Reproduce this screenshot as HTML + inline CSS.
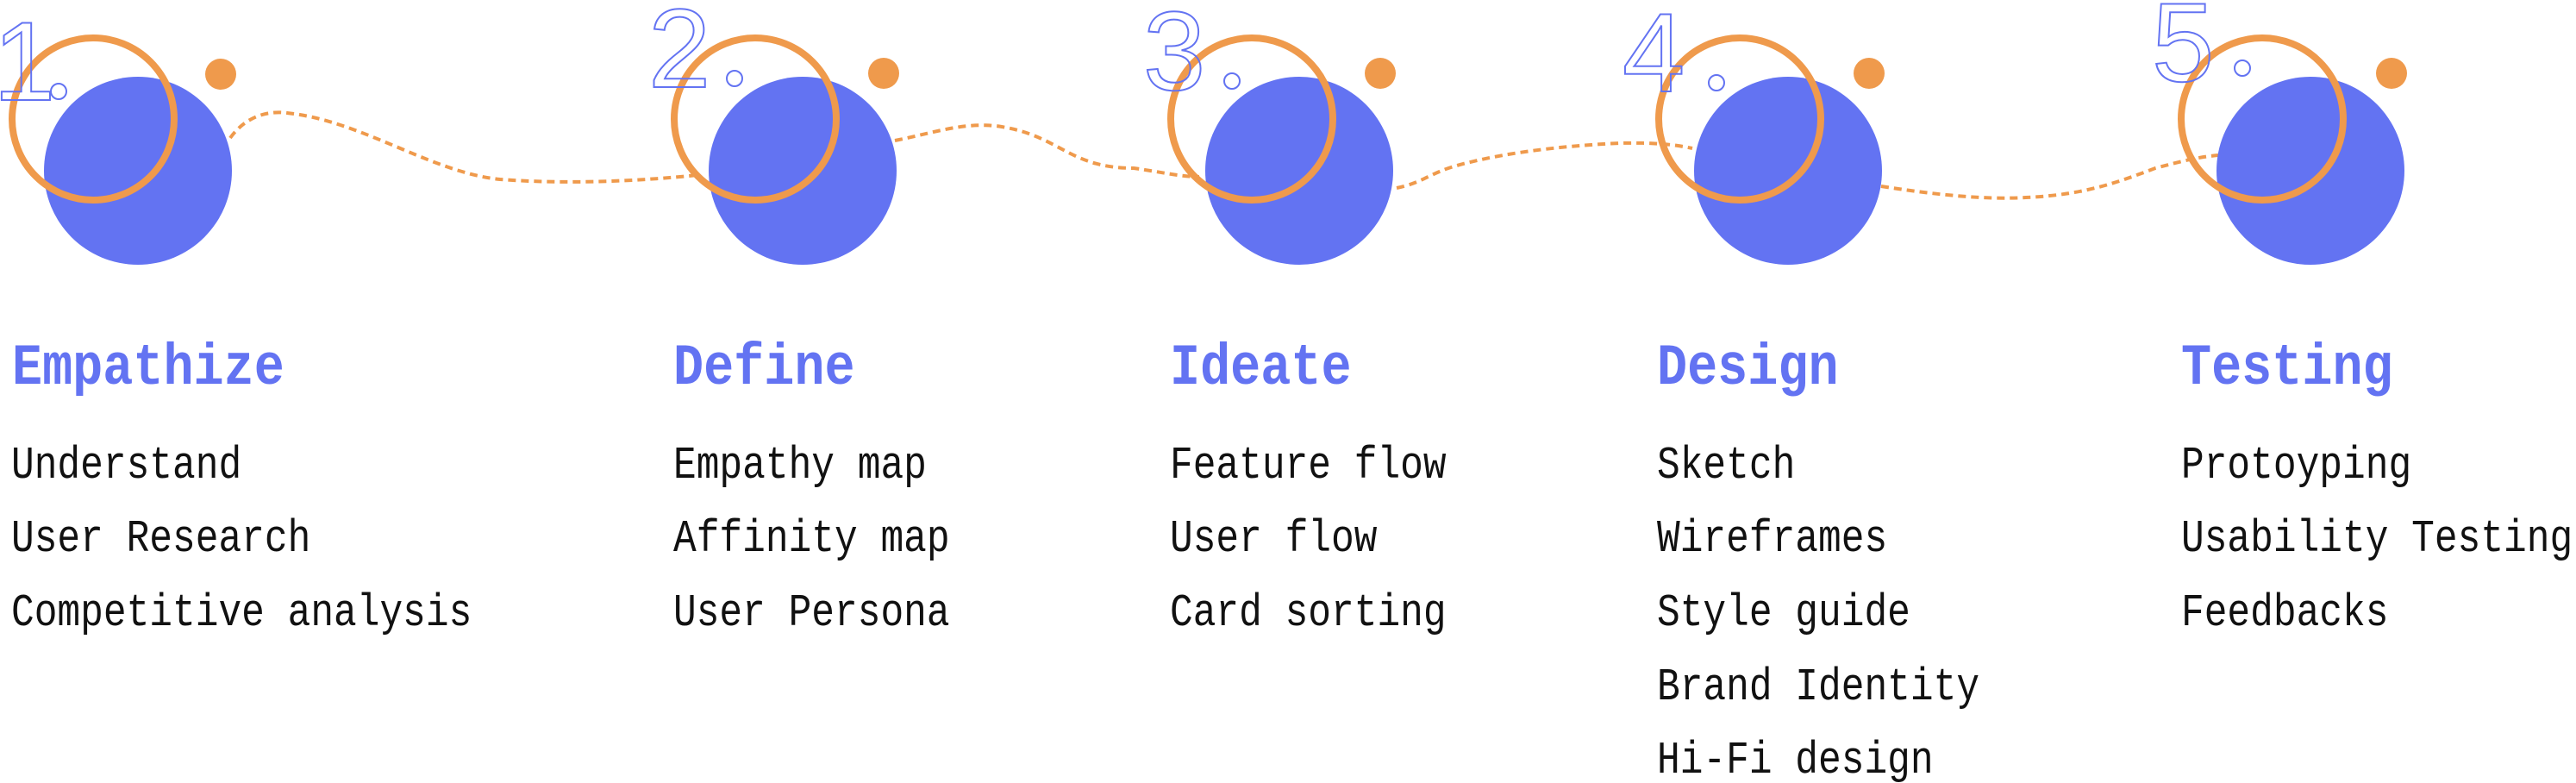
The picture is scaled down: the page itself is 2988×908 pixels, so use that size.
<!DOCTYPE html>
<html><head><meta charset="utf-8"><style>
html,body{margin:0;padding:0;background:#fff;width:2988px;height:908px;overflow:hidden;position:relative}
svg{position:absolute;left:0;top:0}
.h{position:absolute;font-family:"Liberation Mono",monospace;font-weight:bold;font-size:68px;color:#6373F2;transform:scaleX(0.86);transform-origin:0 0;line-height:1;white-space:nowrap}
.t{position:absolute;font-family:"Liberation Mono",monospace;font-size:53px;color:#111;transform:scaleX(0.84);transform-origin:0 0;line-height:1;white-space:nowrap}
</style></head><body>
<svg width="2988" height="908" viewBox="0 0 2988 908">
<g fill="none" stroke="#EF9A4C" stroke-width="4" stroke-dasharray="9 6">
<path d="M267,160 C285,135 310,128 333,131 C420,140 500,200 580,208 C660,214 740,210 810,203"/>
<path d="M1038,163 C1080,155 1120,140 1162,147 C1230,158 1240,195 1315,195 C1350,200 1370,205 1391,205"/>
<path d="M1620,218 C1650,212 1660,200 1690,192 C1750,175 1830,168 1880,166 C1920,165 1945,168 1963,172"/>
<path d="M2182,216 C2240,225 2300,232 2350,229 C2420,226 2460,210 2500,195 C2530,187 2550,182 2573,180"/>
</g>
<g fill="#6373F2">
<circle cx="160" cy="198" r="109"/>
<circle cx="931" cy="198" r="109"/>
<circle cx="1507" cy="198" r="109"/>
<circle cx="2074" cy="198" r="109"/>
<circle cx="2680" cy="198" r="109"/>
</g>
<g fill="none" stroke="#EF9A4C" stroke-width="8">
<circle cx="108" cy="138" r="94"/>
<circle cx="876" cy="138" r="94"/>
<circle cx="1452" cy="138" r="94"/>
<circle cx="2018" cy="138" r="94"/>
<circle cx="2624" cy="138" r="94"/>
</g>
<g fill="#EF9A4C">
<circle cx="256" cy="86" r="18"/>
<circle cx="1025" cy="85" r="18"/>
<circle cx="1601" cy="85" r="18"/>
<circle cx="2168" cy="85" r="18"/>
<circle cx="2774" cy="85" r="18"/>
</g>
<g fill="none" stroke="#6373F2" stroke-width="2" font-family="Liberation Sans, sans-serif" font-size="130">
<text x="-8" y="116">1</text>
<text x="752" y="101">2</text>
<text x="1326" y="104">3</text>
<text x="1882" y="106">4</text>
<text x="2496" y="94">5</text>
<circle cx="68" cy="106" r="9"/>
<circle cx="852" cy="91" r="9"/>
<circle cx="1429" cy="94" r="9"/>
<circle cx="1991" cy="96" r="9"/>
<circle cx="2601" cy="79" r="9"/>
</g>
</svg>

<div class="h" style="left:14px;top:394px">Empathize</div>
<div class="t" style="left:13px;top:514px">Understand</div>
<div class="t" style="left:13px;top:599px">User Research</div>
<div class="t" style="left:13px;top:685px">Competitive analysis</div>

<div class="h" style="left:781px;top:394px">Define</div>
<div class="t" style="left:781px;top:514px">Empathy map</div>
<div class="t" style="left:781px;top:599px">Affinity map</div>
<div class="t" style="left:781px;top:685px">User Persona</div>

<div class="h" style="left:1357px;top:394px">Ideate</div>
<div class="t" style="left:1357px;top:514px">Feature flow</div>
<div class="t" style="left:1357px;top:599px">User flow</div>
<div class="t" style="left:1357px;top:685px">Card sorting</div>

<div class="h" style="left:1922px;top:394px">Design</div>
<div class="t" style="left:1922px;top:514px">Sketch</div>
<div class="t" style="left:1922px;top:599px">Wireframes</div>
<div class="t" style="left:1922px;top:685px">Style guide</div>
<div class="t" style="left:1922px;top:771px">Brand Identity</div>
<div class="t" style="left:1922px;top:856px">Hi-Fi design</div>

<div class="h" style="left:2530px;top:394px">Testing</div>
<div class="t" style="left:2530px;top:514px">Protoyping</div>
<div class="t" style="left:2530px;top:599px">Usability Testing</div>
<div class="t" style="left:2530px;top:685px">Feedbacks</div>
</body></html>
